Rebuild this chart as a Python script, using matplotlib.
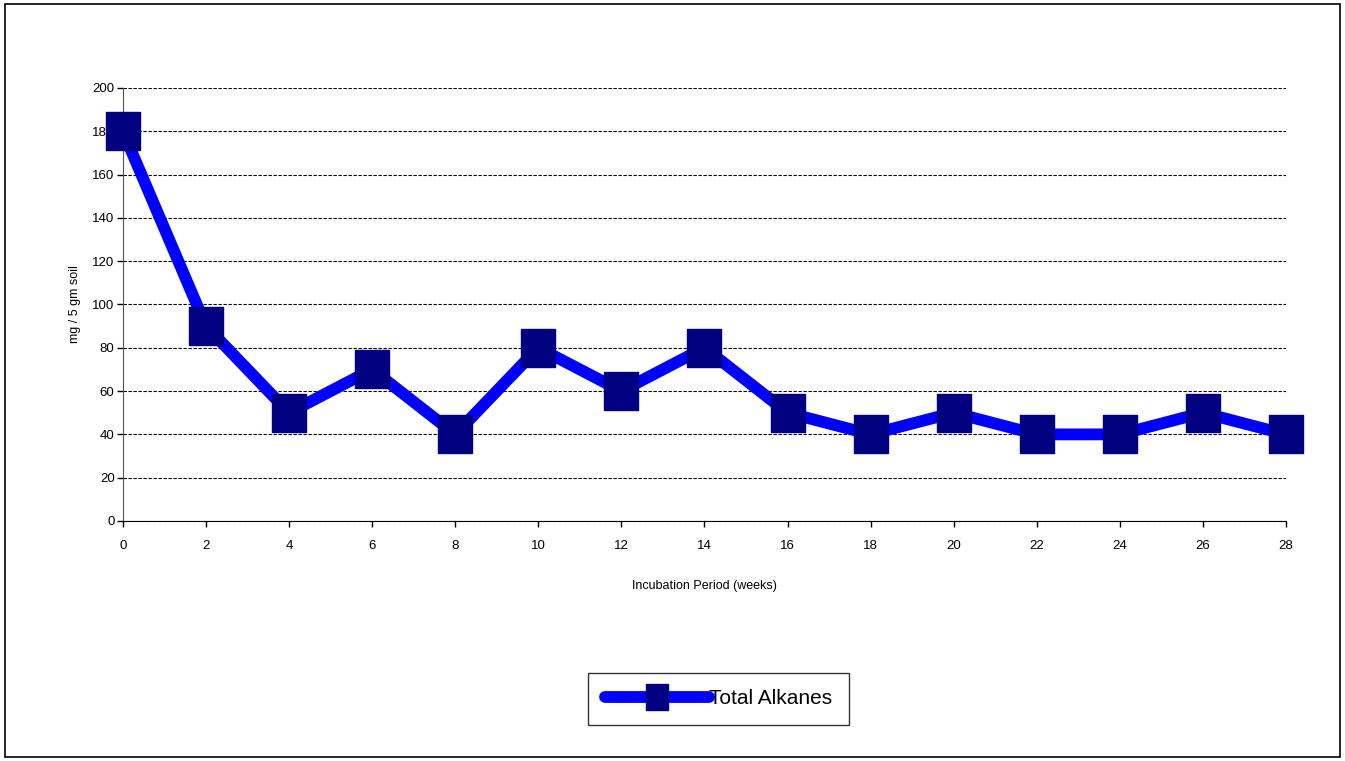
import matplotlib.pyplot as plt
from matplotlib.patches import Rectangle
from matplotlib.path import Path

plt.rcParams["font.family"] = ["Liberation Sans", "DejaVu Sans"]

weeks = [0, 2, 4, 6, 8, 10, 12, 14, 16, 18, 20, 22, 24, 26, 28]
alkanes = [180, 90, 50, 70, 40, 80, 60, 80, 50, 40, 50, 40, 40, 50, 40]
x_ticks = list(range(0, 29, 2))
y_ticks = list(range(0, 201, 20))

# slightly tall box marker
box = Path([(-0.85, -1), (0.85, -1), (0.85, 1), (-0.85, 1), (-0.85, -1)],
           [Path.MOVETO, Path.LINETO, Path.LINETO, Path.LINETO, Path.CLOSEPOLY])

fig = plt.figure(figsize=(13.45, 7.61), dpi=100)
ax = fig.add_axes([0.0914, 0.3154, 0.8647, 0.569])

ax.plot(weeks, alkanes, color="#0000ff", linewidth=8.5, solid_capstyle="round",
        solid_joinstyle="round", marker=box, markersize=28,
        markerfacecolor="#000080", markeredgecolor="#000080",
        clip_on=False, zorder=5, label="Total Alkanes")

ax.set_xlim(0, 28)
ax.set_ylim(0, 200)
ax.set_xticks(x_ticks)
ax.set_yticks(y_ticks)
ax.tick_params(axis="both", direction="out", length=4, width=1, labelsize=9.5,
               colors="black", pad=10)
ax.tick_params(axis="y", pad=2)
ax.grid(axis="y", color="black", linestyle=(0, (3, 1.5)), linewidth=0.8)
ax.set_axisbelow(True)
for side in ("top", "right"):
    ax.spines[side].set_visible(False)
ax.spines["left"].set_color("#555555")
ax.spines["bottom"].set_color("black")

ax.set_xlabel("Incubation Period (weeks)", fontsize=9, labelpad=20)
ax.set_ylabel("mg / 5 gm soil", fontsize=9, labelpad=8)

leg = ax.legend(loc="center", bbox_to_anchor=(0.534, 0.0815),
                bbox_transform=fig.transFigure, fontsize=15, numpoints=1,
                handlelength=5.0, markerscale=0.65, fancybox=False,
                frameon=True, borderpad=0.8, handletextpad=0.0,
                borderaxespad=0)
leg.get_frame().set_edgecolor("black")
leg.get_frame().set_linewidth(1.0)

# outer frame around the whole chart
fig.patches.append(Rectangle((5 / 1345, 4 / 761), 1335 / 1345, 753 / 761,
                             transform=fig.transFigure, fill=False,
                             edgecolor="black", linewidth=1.2))

fig.savefig("out.png", dpi=100)
